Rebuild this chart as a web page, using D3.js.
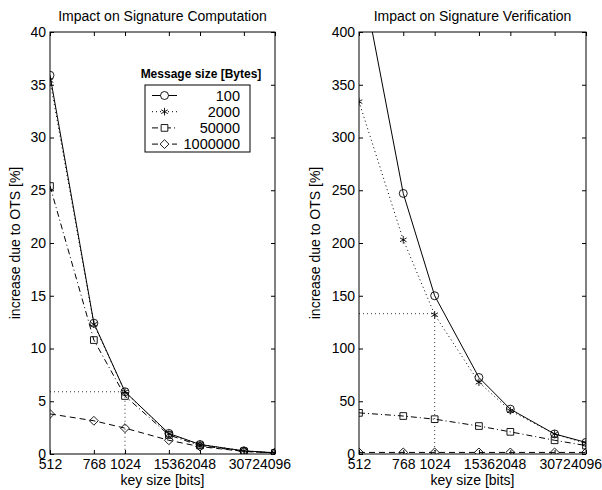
<!DOCTYPE html>
<html>
<head>
<meta charset="utf-8">
<script src="https://cdn.jsdelivr.net/npm/d3@7"></script>
<style>
  body { margin: 0; background: #fff; }
  svg { font-family: "Liberation Sans", Arial, sans-serif; }
  .frame { fill: none; stroke: #000; stroke-width: 1; }
  .tick line { stroke: #000; }
</style>
</head>
<body>
<div id="chart"></div>
<script>
var keySizes = [512, 768, 1024, 1536, 2048, 3072, 4096];
var msgSizes = ["100", "2000", "50000", "1000000"];

// Impact on signature computation [%]
var comp100     = [35.9, 12.4, 5.9, 1.95, 0.9, 0.3, 0.12];
var comp2000    = [35.4, 12.3, 5.9, 1.9, 0.9, 0.3, 0.1];
var comp50000   = [25.4, 10.8, 5.5, 1.8, 0.8, 0.25, 0.1];
var comp1000000 = [3.8, 3.15, 2.45, 1.3, 0.7, 0.25, 0.1];

// Impact on signature verification [%]
var ver100     = [466, 247, 150, 72.5, 42.5, 19, 11];
var ver2000    = [334, 203, 132, 68, 41, 19, 10];
var ver50000   = [39, 36, 33, 26.5, 21, 13, 8];
var ver1000000 = [1.5, 1.5, 1.5, 1.5, 1.5, 1.5, 1.5];

var compTicks = [0, 5, 10, 15, 20, 25, 30, 35, 40];
var verTicks = [0, 50, 100, 150, 200, 250, 300, 350, 400];

// dotted guide at 1024 bits
var compGuide = [1024, 5.9];
var verGuide = [1024, 133];

var styles = [
  { dash: null,        sym: d3.symbolCircle,   size: 50 },
  { dash: "1,3",       sym: d3.symbolAsterisk, size: 40 },
  { dash: "6,3,1,3",   sym: d3.symbolSquare,   size: 45 },
  { dash: "6,4",       sym: d3.symbolDiamond2, size: 50 }
];

var svg = d3.select("#chart").append("svg")
    .attr("width", 602)
    .attr("height", 490);

function panel(opts) {
  var x = d3.scaleLog().base(2)
      .domain([512, 4096])
      .range([opts.left, opts.right]);
  var y = d3.scaleLinear()
      .domain([0, opts.ymax])
      .range([454, 32]);

  var g = svg.append("g");
  var clipId = "clip" + opts.id;
  svg.append("clipPath").attr("id", clipId)
    .append("rect")
      .attr("x", opts.left).attr("y", 32)
      .attr("width", opts.right - opts.left).attr("height", 422);

  // axes (MATLAB box style, ticks inside)
  g.append("g")
      .attr("transform", "translate(0,454)")
      .call(d3.axisBottom(x).tickValues(keySizes).tickFormat(d3.format("d")).tickSizeInner(-4).tickSizeOuter(0).tickPadding(5))
      .call(function(a) { a.select(".domain").remove(); })
      .selectAll("text").attr("font-size", 14).attr("fill", "#000").attr("font-family", "Liberation Sans, Arial, sans-serif");
  g.append("g")
      .attr("transform", "translate(0,32)")
      .call(d3.axisTop(x).tickValues(keySizes).tickFormat("").tickSizeInner(-4).tickSizeOuter(0))
      .call(function(a) { a.select(".domain").remove(); });
  g.append("g")
      .attr("transform", "translate(" + opts.left + ",0)")
      .call(d3.axisLeft(y).tickValues(opts.ticks).tickFormat(d3.format("d")).tickSizeInner(-4).tickSizeOuter(0).tickPadding(4))
      .call(function(a) { a.select(".domain").remove(); })
      .selectAll("text").attr("font-size", 14).attr("fill", "#000").attr("font-family", "Liberation Sans, Arial, sans-serif");
  g.append("g")
      .attr("transform", "translate(" + opts.right + ",0)")
      .call(d3.axisRight(y).tickValues(opts.ticks).tickFormat("").tickSizeInner(-4).tickSizeOuter(0))
      .call(function(a) { a.select(".domain").remove(); });

  g.append("rect")
      .attr("class", "frame")
      .attr("x", opts.left).attr("y", 32)
      .attr("width", opts.right - opts.left).attr("height", 422);

  // dotted guide lines
  g.append("path")
      .attr("d", d3.line()([[x(512), y(opts.guide[1])], [x(opts.guide[0]), y(opts.guide[1])], [x(opts.guide[0]), y(0)]]))
      .attr("fill", "none")
      .attr("stroke", "#000")
      .attr("stroke-width", 0.8)
      .attr("stroke-dasharray", "1,3");

  var line = d3.line()
      .x(function(d, i) { return x(keySizes[i]); })
      .y(function(d) { return y(d); });

  var plot = g.append("g").attr("clip-path", "url(#" + clipId + ")");
  opts.series.forEach(function(s, k) {
    plot.append("path")
        .attr("d", line(s))
        .attr("fill", "none")
        .attr("stroke", "#000")
        .attr("stroke-width", 1)
        .attr("stroke-dasharray", styles[k].dash);
    plot.selectAll(".m" + k)
        .data(s)
      .enter().append("path")
        .attr("transform", function(d, i) { return "translate(" + x(keySizes[i]) + "," + y(d) + ")"; })
        .attr("d", d3.symbol().type(styles[k].sym).size(styles[k].size))
        .attr("fill", "none")
        .attr("stroke", "#000")
        .attr("stroke-width", 0.9);
  });

  var cx = (opts.left + opts.right) / 2;
  g.append("text")
      .attr("x", cx).attr("y", 21)
      .attr("text-anchor", "middle")
      .attr("font-size", 14)
      .text(opts.title);
  g.append("text")
      .attr("x", cx).attr("y", 485)
      .attr("text-anchor", "middle")
      .attr("font-size", 14)
      .text("key size [bits]");
  g.append("text")
      .attr("transform", "translate(" + opts.ylabelX + ",243) rotate(-90)")
      .attr("text-anchor", "middle")
      .attr("font-size", 14)
      .text("increase due to OTS [%]");
}

panel({ id: 1, left: 50, right: 275, ymax: 40, ticks: compTicks, guide: compGuide,
        series: [comp100, comp2000, comp50000, comp1000000],
        title: "Impact on Signature Computation", ylabelX: 20 });
panel({ id: 2, left: 359, right: 586, ymax: 400, ticks: verTicks, guide: verGuide,
        series: [ver100, ver2000, ver50000, ver1000000],
        title: "Impact on Signature Verification", ylabelX: 320 });

// legend
var legend = svg.append("g");
legend.append("text")
    .attr("x", 201).attr("y", 78)
    .attr("text-anchor", "middle")
    .attr("font-size", 12)
    .attr("font-weight", "bold")
    .text("Message size [Bytes]");
legend.append("rect")
    .attr("x", 145).attr("y", 85)
    .attr("width", 105).attr("height", 67)
    .attr("fill", "#fff")
    .attr("stroke", "#000")
    .attr("stroke-width", 1);
var rows = legend.selectAll(".row")
    .data(msgSizes)
  .enter().append("g")
    .attr("transform", function(d, i) { return "translate(0," + (95.5 + i * 16.2) + ")"; });
rows.append("line")
    .attr("x1", 152).attr("x2", 177)
    .attr("stroke", "#000")
    .attr("stroke-dasharray", function(d, i) { return styles[i].dash; });
rows.append("path")
    .attr("transform", "translate(164.5,0)")
    .attr("d", function(d, i) { return d3.symbol().type(styles[i].sym).size(styles[i].size)(); })
    .attr("fill", "#fff")
    .attr("stroke", "#000")
    .attr("stroke-width", 0.9);
rows.append("text")
    .attr("x", 240).attr("y", 5)
    .attr("text-anchor", "end")
    .attr("font-size", 14.5)
    .text(function(d) { return d; });
</script>
</body>
</html>
